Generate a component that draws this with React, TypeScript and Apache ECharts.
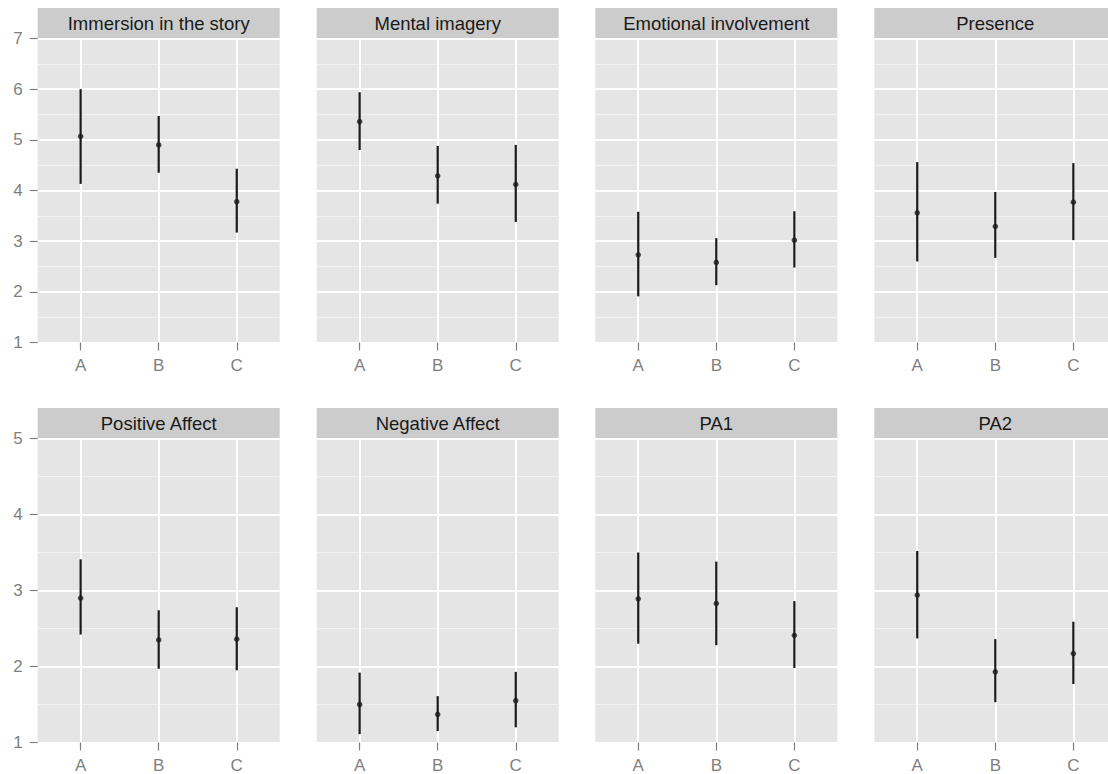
import React, { useEffect, useRef } from "react";
import * as echarts from "echarts";

// ---- data ----
const categories = ["A", "B", "C"];
const panelTitles = [
  "Immersion in the story",
  "Mental imagery",
  "Emotional involvement",
  "Presence",
  "Positive Affect",
  "Negative Affect",
  "PA1",
  "PA2",
];
const rowYTicks = [
  [1, 2, 3, 4, 5, 6, 7],
  [1, 2, 3, 4, 5],
];

const immersionMean = [5.07, 4.9, 3.78];
const immersionLow = [4.13, 4.35, 3.17];
const immersionHigh = [6.0, 5.47, 4.43];

const imageryMean = [5.36, 4.29, 4.12];
const imageryLow = [4.8, 3.74, 3.38];
const imageryHigh = [5.94, 4.88, 4.9];

const emotionalMean = [2.73, 2.58, 3.02];
const emotionalLow = [1.91, 2.13, 2.48];
const emotionalHigh = [3.58, 3.06, 3.59];

const presenceMean = [3.56, 3.29, 3.77];
const presenceLow = [2.6, 2.67, 3.02];
const presenceHigh = [4.56, 3.97, 4.54];

const positiveMean = [2.9, 2.35, 2.36];
const positiveLow = [2.42, 1.97, 1.95];
const positiveHigh = [3.41, 2.74, 2.78];

const negativeMean = [1.5, 1.37, 1.55];
const negativeLow = [1.11, 1.15, 1.2];
const negativeHigh = [1.92, 1.61, 1.93];

const pa1Mean = [2.89, 2.83, 2.41];
const pa1Low = [2.3, 2.28, 1.98];
const pa1High = [3.5, 3.38, 2.86];

const pa2Mean = [2.94, 1.93, 2.17];
const pa2Low = [2.37, 1.53, 1.77];
const pa2High = [3.52, 2.36, 2.59];

const panelMeans = [immersionMean, imageryMean, emotionalMean, presenceMean, positiveMean, negativeMean, pa1Mean, pa2Mean];
const panelLows = [immersionLow, imageryLow, emotionalLow, presenceLow, positiveLow, negativeLow, pa1Low, pa2Low];
const panelHighs = [immersionHigh, imageryHigh, emotionalHigh, presenceHigh, positiveHigh, negativeHigh, pa1High, pa2High];

// ---- layout ----
const PANEL_LEFTS = [37.7, 316.7, 595.3, 874.3];
const PANEL_W = 242;
const PANEL_H = 304;
const ROW_TOPS = [38.5, 438.5];
const STRIP_H = 30;

const FONT = "Liberation Sans, Arial, Helvetica, sans-serif";
const INK = "#1a1a1a";
const AXIS_GREY = "#7f7f7f";

export default function App() {
  const ref = useRef<HTMLDivElement>(null);

  useEffect(() => {
    if (!ref.current) return;
    const chart = echarts.init(ref.current, null, { renderer: "svg" });

    const grids: any[] = [];
    const xAxes: any[] = [];
    const yAxes: any[] = [];
    const series: any[] = [];
    const graphics: any[] = [];

    panelTitles.forEach((title, i) => {
      const row = Math.floor(i / 4);
      const col = i % 4;
      const left = PANEL_LEFTS[col];
      const top = ROW_TOPS[row];
      const ticks = rowYTicks[row];

      grids.push({
        left,
        top,
        width: PANEL_W,
        height: PANEL_H,
        show: true,
        backgroundColor: "#e5e5e5",
        borderWidth: 0,
        containLabel: false,
        outerBoundsMode: "none",
      });

      xAxes.push({
        type: "value",
        gridIndex: i,
        min: 0.45,
        max: 3.55,
        axisLine: { show: false },
        axisTick: {
          show: true,
          customValues: [1, 2, 3],
          length: 8,
          lineStyle: { color: AXIS_GREY, width: 1.2 },
        },
        axisLabel: {
          show: true,
          customValues: [1, 2, 3],
          formatter: (v: number) => categories[Math.round(v) - 1] ?? "",
          color: AXIS_GREY,
          fontSize: 17,
          fontFamily: FONT,
          margin: 14,
        },
        splitLine: { show: true, lineStyle: { color: "#ffffff", width: 2 } },
      });

      yAxes.push({
        type: "value",
        gridIndex: i,
        min: ticks[0],
        max: ticks[ticks.length - 1],
        interval: 1,
        axisLine: { show: false },
        axisTick: {
          show: col === 0,
          length: 8,
          lineStyle: { color: AXIS_GREY, width: 1.2 },
        },
        axisLabel: {
          show: col === 0,
          color: AXIS_GREY,
          fontSize: 17,
          fontFamily: FONT,
          margin: 15,
        },
        splitLine: { show: true, lineStyle: { color: "#ffffff", width: 2 } },
        minorTick: { show: false, splitNumber: 2 },
        minorSplitLine: { show: true, lineStyle: { color: "#f2f2f2", width: 1 } },
      });

      const means = panelMeans[i];
      const lows = panelLows[i];
      const highs = panelHighs[i];

      series.push({
        type: "custom",
        xAxisIndex: i,
        yAxisIndex: i,
        encode: { x: 0, y: [1, 2] },
        data: categories.map((_, k) => [k + 1, lows[k], highs[k]]),
        renderItem: (_params: any, api: any) => {
          const x = api.value(0);
          const p1 = api.coord([x, api.value(1)]);
          const p2 = api.coord([x, api.value(2)]);
          return {
            type: "line",
            shape: { x1: p1[0], y1: p1[1], x2: p2[0], y2: p2[1] },
            style: { stroke: INK, lineWidth: 2.2 },
          };
        },
        z: 3,
      });

      series.push({
        type: "scatter",
        xAxisIndex: i,
        yAxisIndex: i,
        data: categories.map((_, k) => [k + 1, means[k]]),
        symbol: "circle",
        symbolSize: 5.5,
        itemStyle: { color: INK },
        z: 4,
      });

      graphics.push({
        type: "rect",
        x: left,
        y: top - STRIP_H - 0.5,
        shape: { x: 0, y: 0, width: PANEL_W, height: STRIP_H },
        style: { fill: "#cccccc" },
        silent: true,
      });
      graphics.push({
        type: "text",
        x: left + PANEL_W / 2,
        y: top - STRIP_H / 2 - 0.5,
        style: {
          text: title,
          fill: INK,
          font: `18.5px ${FONT}`,
          align: "center",
          verticalAlign: "middle",
        },
        silent: true,
      });
    });

    chart.setOption({
      animation: false,
      backgroundColor: "#ffffff",
      grid: grids,
      xAxis: xAxes,
      yAxis: yAxes,
      series,
      graphic: graphics,
    });

    return () => chart.dispose();
  }, []);

  return (
    <div
      ref={ref}
      style={{ position: "absolute", left: 0, top: 0, width: 1108, height: 774 }}
    />
  );
}
